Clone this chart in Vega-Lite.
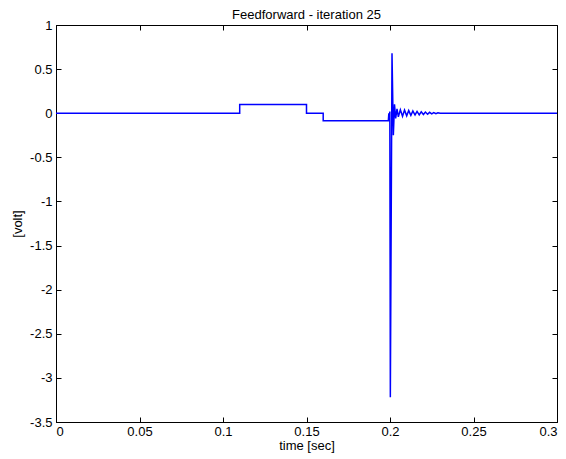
{
  "$schema": "https://vega.github.io/schema/vega-lite/v6.json",
  "width": 501,
  "height": 397,
  "autosize": "none",
  "padding": {"left": 56, "top": 25, "right": 9, "bottom": 37},
  "background": "white",
  "title": {"text": "Feedforward - iteration 25", "font": "Liberation Sans", "fontSize": 13, "fontWeight": "normal", "color": "black", "offset": -3},
  "config": {
    "view": {"stroke": "black", "strokeWidth": 1},
    "axis": {"grid": false, "zindex": 1, "domainColor": "black", "tickColor": "black", "ticks": true, "labelColor": "black", "titleColor": "black", "labelFont": "Liberation Sans", "titleFont": "Liberation Sans", "labelFontSize": 13, "titleFontSize": 13, "titleFontWeight": "normal", "tickSize": -5, "tickWidth": 1, "labelPadding": 9}
  },
  "resolve": {"axis": {"x": "independent", "y": "independent"}},
  "data": {"values": [
    {"i": 0, "t": 0, "v": 0},
    {"i": 1, "t": 0.11, "v": 0},
    {"i": 2, "t": 0.11, "v": 0.1},
    {"i": 3, "t": 0.15, "v": 0.1},
    {"i": 4, "t": 0.15, "v": 0},
    {"i": 5, "t": 0.16, "v": 0},
    {"i": 6, "t": 0.16, "v": -0.085},
    {"i": 7, "t": 0.199, "v": -0.085},
    {"i": 8, "t": 0.1993, "v": 0.0},
    {"i": 9, "t": 0.1996, "v": -0.04},
    {"i": 10, "t": 0.1999, "v": 0.02},
    {"i": 11, "t": 0.2002, "v": -3.22},
    {"i": 12, "t": 0.2012, "v": 0.68},
    {"i": 13, "t": 0.202, "v": -0.25},
    {"i": 14, "t": 0.2027, "v": 0.1},
    {"i": 15, "t": 0.2034, "v": -0.06},
    {"i": 16, "t": 0.2042, "v": 0.05},
    {"i": 17, "t": 0.205, "v": -0.04},
    {"i": 18, "t": 0.2062, "v": 0.04},
    {"i": 19, "t": 0.2075, "v": -0.035},
    {"i": 20, "t": 0.2087, "v": 0.035},
    {"i": 21, "t": 0.21, "v": -0.03},
    {"i": 22, "t": 0.2112, "v": 0.03},
    {"i": 23, "t": 0.2125, "v": -0.025},
    {"i": 24, "t": 0.2137, "v": 0.025},
    {"i": 25, "t": 0.215, "v": -0.02},
    {"i": 26, "t": 0.2162, "v": 0.02},
    {"i": 27, "t": 0.2175, "v": -0.018},
    {"i": 28, "t": 0.2187, "v": 0.016},
    {"i": 29, "t": 0.22, "v": -0.015},
    {"i": 30, "t": 0.2212, "v": 0.013},
    {"i": 31, "t": 0.2225, "v": -0.012},
    {"i": 32, "t": 0.2237, "v": 0.01},
    {"i": 33, "t": 0.225, "v": -0.008},
    {"i": 34, "t": 0.2262, "v": 0.007},
    {"i": 35, "t": 0.2275, "v": -0.006},
    {"i": 36, "t": 0.2287, "v": 0.005},
    {"i": 37, "t": 0.23, "v": 0},
    {"i": 38, "t": 0.3, "v": 0}
  ]},
  "layer": [
    {
      "mark": {"type": "line", "color": "#0000ff", "strokeWidth": 1.5, "clip": true},
      "encoding": {
        "x": {"field": "t", "type": "quantitative", "scale": {"domain": [0, 0.3], "nice": false, "zero": false},
          "axis": {"title": "time [sec]", "values": [0, 0.05, 0.1, 0.15, 0.2, 0.25, 0.3], "labelExpr": "toString(datum.value)", "ticks": true, "tickSize": -5, "tickColor": "black", "labelPadding": 8, "titlePadding": 1}},
        "y": {"field": "v", "type": "quantitative", "scale": {"domain": [-3.5, 1], "nice": false, "zero": false},
          "axis": {"title": "[volt]", "values": [-3.5, -3, -2.5, -2, -1.5, -1, -0.5, 0, 0.5, 1], "labelExpr": "toString(datum.value)", "ticks": true, "tickSize": -5, "tickColor": "black", "titlePadding": 5}},
        "order": {"field": "i", "type": "quantitative"}
      }
    },
    {
      "mark": {"type": "rule", "opacity": 0},
      "encoding": {
        "x": {"datum": 0, "type": "quantitative", "axis": {"orient": "top", "values": [0, 0.05, 0.1, 0.15, 0.2, 0.25, 0.3], "labels": false, "title": null, "domain": false}},
        "y": {"datum": 0, "type": "quantitative", "axis": {"orient": "right", "values": [-3.5, -3, -2.5, -2, -1.5, -1, -0.5, 0, 0.5, 1], "labels": false, "title": null, "domain": false}}
      }
    }
  ]
}
